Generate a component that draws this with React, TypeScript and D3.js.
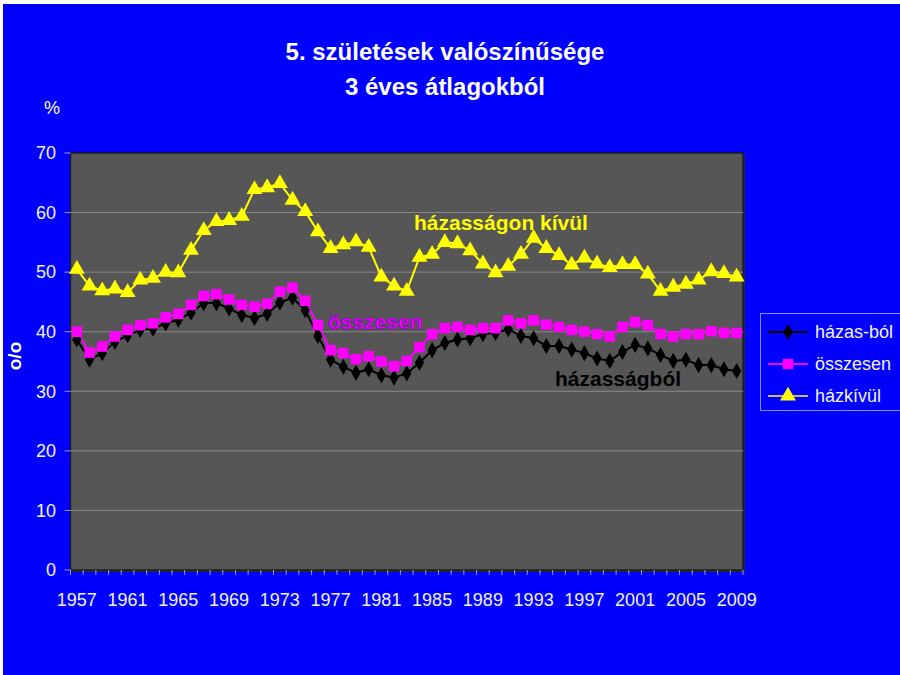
import React, { useEffect } from 'react';
import * as d3 from 'd3';

const years = d3.range(1957, 2010);

// házas-ból (born within marriage)
const hazasBol = [
  38.7, 35.3, 36.4, 38.3, 39.4, 40.3, 40.5, 41.4, 42.0, 43.2,
  44.8, 44.8, 43.9, 42.8, 42.3, 43.0, 44.9, 45.7, 43.6, 39.3,
  35.3, 34.1, 33.1, 33.7, 32.7, 32.3, 33.0, 34.8, 36.9, 38.1,
  38.7, 38.9, 39.6, 39.8, 40.4, 39.3, 38.9, 37.6, 37.6, 37.0,
  36.4, 35.5, 35.1, 36.6, 37.8, 37.2, 36.1, 35.1, 35.3, 34.4,
  34.4, 33.7, 33.4,
];

// összesen (total)
const osszesen = [
  40.0, 36.5, 37.5, 39.2, 40.3, 41.1, 41.4, 42.4, 43.0, 44.5,
  46.0, 46.3, 45.4, 44.5, 44.2, 44.7, 46.7, 47.4, 45.2, 41.1,
  36.9, 36.4, 35.4, 35.9, 35.0, 34.2, 35.1, 37.4, 39.6, 40.6,
  40.8, 40.3, 40.6, 40.6, 41.9, 41.4, 41.9, 41.2, 40.8, 40.3,
  40.0, 39.6, 39.2, 40.8, 41.6, 41.1, 39.6, 39.2, 39.6, 39.6,
  40.1, 39.8, 39.8,
];

// házkívül (outside marriage)
const hazKivul = [
  50.5, 47.7, 46.9, 47.2, 46.6, 48.7, 49.0, 50.0, 49.9, 53.7,
  57.0, 58.5, 58.7, 59.4, 63.9, 64.2, 64.9, 62.1, 60.2, 56.8,
  54.0, 54.6, 55.1, 54.2, 49.2, 47.7, 46.8, 52.5, 53.0, 55.0,
  54.8, 53.6, 51.4, 49.9, 51.0, 53.0, 55.7, 54.0, 52.8, 51.2,
  52.4, 51.4, 50.8, 51.3, 51.3, 49.7, 46.8, 47.5, 48.0, 48.7,
  50.1, 49.8, 49.2,
];

const yTicks = [0, 10, 20, 30, 40, 50, 60, 70];
const xLabelYears = d3.range(1957, 2010, 4);

const W = 900, H = 675;
const plot = { left: 70.5, right: 743, top: 153, bottom: 570 };
const font = '"Liberation Sans", Arial, sans-serif';

type Marker = 'diamond' | 'square' | 'triangle';

const markerPath = (kind: Marker) => {
  const sym = kind === 'diamond' ? d3.symbolDiamond : kind === 'square' ? d3.symbolSquare : d3.symbolTriangle;
  const size = kind === 'diamond' ? 75 : kind === 'square' ? 110 : 110;
  return d3.symbol(sym, size)() as string;
};

const series = [
  { name: 'házas-ból', values: hazasBol, color: '#000000', legendLine: '#000000', marker: 'diamond' as Marker },
  { name: 'összesen', values: osszesen, color: '#ff00ff', legendLine: '#ff00ff', marker: 'square' as Marker },
  { name: 'házkívül', values: hazKivul, color: '#ffff00', legendLine: '#c9b863', marker: 'triangle' as Marker },
];

export default function App() {
  useEffect(() => {
    document.body.style.margin = '0';
  }, []);

  const x = d3.scaleBand<number>().domain(years).range([plot.left, plot.right]).padding(0);
  const cx = (yr: number) => (x(yr) as number) + x.bandwidth() / 2;
  const y = d3.scaleLinear().domain([0, 70]).range([plot.bottom, plot.top]);

  const line = d3.line<number>()
    .x((_, i) => cx(years[i]))
    .y(d => y(d));

  return (
    <svg width={W} height={H} style={{ display: 'block' }} fontFamily={font}>
      <rect x={0} y={0} width={W} height={H} fill="#ffffff" />
      <rect x={3} y={4} width={W - 3} height={H - 4} fill="#0000ff" />

      {/* title */}
      <text x={445} y={60} textAnchor="middle" fill="#ffffff" fontWeight="bold" fontSize={24}>
        5. születések valószínűsége
      </text>
      <text x={445} y={95} textAnchor="middle" fill="#ffffff" fontWeight="bold" fontSize={24}>
        3 éves átlagokból
      </text>
      <text x={52} y={114} textAnchor="middle" fill="#ffffd0" fontSize={18}>%</text>

      {/* plot area */}
      <rect x={plot.left + 2} y={plot.top + 2} width={plot.right - plot.left} height={plot.bottom - plot.top} fill="#2a2a2a" />
      <rect x={plot.left} y={plot.top} width={plot.right - plot.left} height={plot.bottom - plot.top} fill="#565656" stroke="#1e1e1e" strokeWidth={1.5} />
      {yTicks.filter(t => t > 0 && t < 70).map(t => (
        <line key={t} x1={plot.left} x2={plot.right} y1={y(t)} y2={y(t)} stroke="#8a8a8a" strokeWidth={1} />
      ))}

      {/* y axis */}
      {yTicks.map(t => (
        <g key={t}>
          <line x1={plot.left - 6} x2={plot.left} y1={y(t)} y2={y(t)} stroke="#9a9aff" strokeWidth={1} />
          <text x={56} y={y(t)} dy="0.35em" textAnchor="end" fill="#f2f2f2" fontSize={18}>{t}</text>
        </g>
      ))}
      <text transform={`translate(21,356) rotate(-90)`} textAnchor="middle" fill="#ffffff" fontWeight="bold" fontSize={19}>o/o</text>

      {/* x axis */}
      {years.concat([2010]).map((yr, i) => {
        const px = plot.left + i * x.step();
        return <line key={yr} x1={px} x2={px} y1={plot.bottom} y2={plot.bottom + 5} stroke="#9a9aff" strokeWidth={1} />;
      })}
      {xLabelYears.map(yr => (
        <text key={yr} x={cx(yr)} y={606} textAnchor="middle" fill="#f2f2f2" fontSize={18}>{yr}</text>
      ))}

      {/* series */}
      {series.map(s => (
        <path key={s.name} d={line(s.values) as string} fill="none" stroke={s.color} strokeWidth={2} />
      ))}
      {series.map(s => (
        <g key={s.name + '-m'}>
          {s.values.map((v, i) => (
            <path key={i} d={markerPath(s.marker)} transform={`translate(${cx(years[i])},${y(v)})`} fill={s.color} />
          ))}
        </g>
      ))}

      {/* in-plot labels */}
      <text x={414} y={230} fill="#ffff00" fontWeight="bold" fontSize={21}>házasságon kívül</text>
      <text x={328} y={329} fill="#ff00ff" stroke="#7000c0" strokeWidth={0.6} fontWeight="bold" fontSize={21}>összesen</text>
      <text x={555} y={386} fill="#000000" fontWeight="bold" fontSize={21}>házasságból</text>

      {/* legend */}
      <rect x={760.5} y={313.5} width={150} height={97} fill="none" stroke="#8c8cff" strokeWidth={1} />
      {series.map((s, i) => {
        const ly = 332 + i * 32;
        return (
          <g key={s.name + '-l'}>
            <line x1={768} x2={808} y1={ly} y2={ly} stroke={s.legendLine} strokeWidth={2} />
            <path d={markerPath(s.marker)} transform={`translate(788,${ly})`} fill={s.color} />
            <text x={815} y={ly} dy="0.35em" fill="#f2f2f2" fontSize={18}>{s.name}</text>
          </g>
        );
      })}
    </svg>
  );
}
